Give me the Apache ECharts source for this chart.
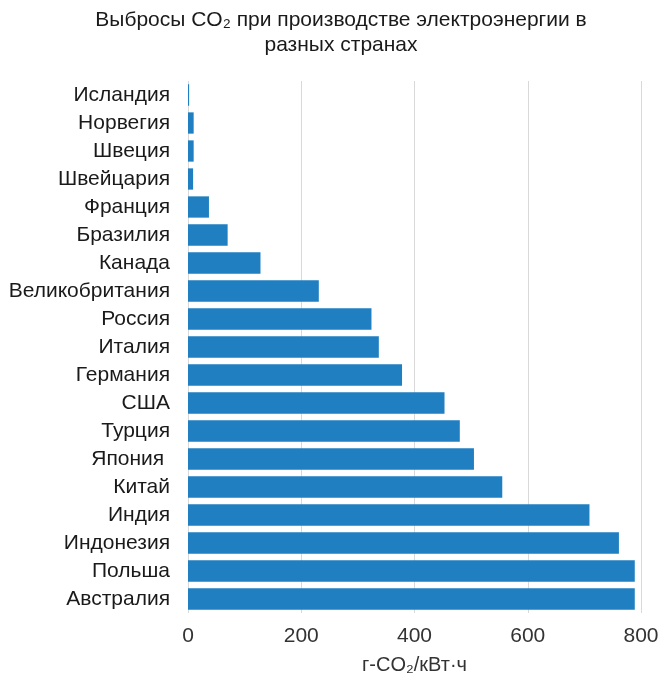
<!DOCTYPE html>
<html>
<head>
<meta charset="utf-8">
<script src="https://cdn.jsdelivr.net/npm/echarts@6/dist/echarts.min.js"></script>
<style>
  html, body { margin: 0; padding: 0; background: #fff; }
  #chart { width: 662px; height: 677px; }
</style>
</head>
<body>
<div id="chart"></div>
<script>
// страны сверху вниз
var countries = ['Исландия', 'Норвегия', 'Швеция', 'Швейцария', 'Франция', 'Бразилия', 'Канада',
  'Великобритания', 'Россия', 'Италия', 'Германия', 'США', 'Турция', 'Япония ', 'Китай',
  'Индия', 'Индонезия', 'Польша', 'Австралия'];
// г-CO2/кВт·ч
var emissions = [2, 10, 10, 9, 37, 70, 128, 231, 324, 337, 378, 453, 480, 505, 555, 709, 761, 789, 789];
var xTicks = [0, 200, 400, 600, 800];

var font = 'Liberation Sans, Arial, sans-serif';

var option = {
  animation: false,
  title: {
    text: 'Выбросы CO₂ при производстве электроэнергии в\nразных странах',
    left: 341,
    top: 8,
    padding: 0,
    textAlign: 'center',
    textStyle: {
      fontFamily: font,
      fontSize: 21,
      fontWeight: 'normal',
      color: '#1a1a1a',
      lineHeight: 25
    }
  },
  grid: {
    left: 188,
    right: 21,
    top: 81,
    bottom: 64,
    outerBoundsMode: 'none'
  },
  xAxis: {
    type: 'value',
    min: xTicks[0],
    max: xTicks[xTicks.length - 1],
    interval: 200,
    name: 'г-CO₂/кВт·ч',
    nameLocation: 'middle',
    nameGap: 42,
    nameTextStyle: { fontFamily: font, fontSize: 20, color: '#333' },
    axisLine: { show: false },
    axisTick: { show: false },
    axisLabel: { fontFamily: font, fontSize: 21, color: '#333', margin: 13 },
    splitLine: { lineStyle: { color: '#d9d9d9', width: 1 } }
  },
  yAxis: {
    type: 'category',
    inverse: true,
    data: countries,
    axisLine: { show: false },
    axisTick: { show: false },
    axisLabel: { fontFamily: font, fontSize: 21, color: '#1a1a1a', margin: 18 }
  },
  series: [{
    type: 'bar',
    data: emissions,
    barCategoryGap: '24%',
    itemStyle: { color: '#1f7fc0' }
  }]
};

var myChart = echarts.init(document.getElementById('chart'));
myChart.setOption(option);
</script>
</body>
</html>
